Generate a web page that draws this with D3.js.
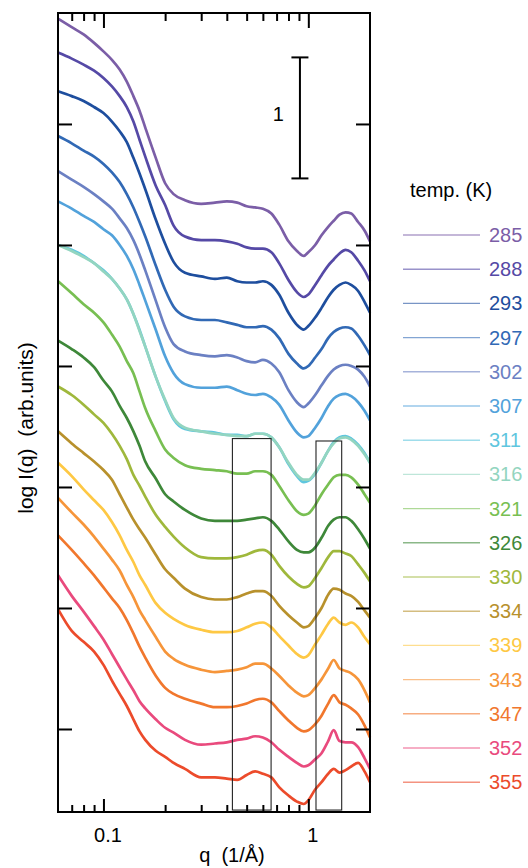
<!DOCTYPE html>
<html>
<head>
<meta charset="utf-8">
<script src="https://cdn.jsdelivr.net/npm/d3@7"></script>
<style>
body { margin: 0; background: #fff; }
svg { font-family: "Liberation Sans", Arial, sans-serif; }
</style>
</head>
<body>
<svg id="saxs-temp"></svg>
<script>
const qValues = [0.06, 0.07, 0.08, 0.09, 0.10, 0.11, 0.12, 0.13, 0.14, 0.15, 0.16, 0.18, 0.20, 0.22, 0.25,
    0.30, 0.35, 0.40, 0.45, 0.50, 0.55, 0.60, 0.66, 0.72, 0.80, 0.88, 0.95, 1.00,
    1.08, 1.16, 1.25, 1.33, 1.42, 1.52, 1.62, 1.75, 1.88, 2.00];

const temps = [285, 288, 293, 297, 302, 307, 311, 316, 321, 326, 330, 334, 339, 343, 347, 352, 355];

const colors = ["#7b5ea7", "#5549a6", "#1e4e9e", "#3169b5", "#6b80c3", "#52a2db", "#5fc6de", "#93d5c0",
    "#78bf52", "#3e8839", "#9fb83c", "#b8912c", "#fec844", "#f6953a", "#f1772d", "#e94a7d", "#ec4b2b"];

// vertical shift of each curve (decades)
const offsets = [4.34, 4.04, 3.74, 3.38, 3.09, 2.82, 2.47, 2.46, 2.15, 1.74, 1.42, 1.09, 0.82, 0.48, 0.19, -0.13, -0.40];

// log I(q), relative to the level at q = 0.3
const logI = [
    [1.53, 1.46, 1.40, 1.33, 1.26, 1.19, 1.11, 1.01, 0.89, 0.77, 0.63, 0.38, 0.17, 0.08, 0.03, 0, 0.01, 0.02, 0.01, -0.02, -0.03, -0.04, -0.08, -0.17, -0.31, -0.39, -0.43, -0.40, -0.34, -0.26, -0.19, -0.14, -0.09, -0.07, -0.08, -0.15, -0.22, -0.31],
    [1.55, 1.50, 1.45, 1.40, 1.34, 1.27, 1.19, 1.10, 0.98, 0.83, 0.69, 0.45, 0.29, 0.12, 0.03, 0, 0, -0.01, -0.03, -0.06, -0.07, -0.07, -0.10, -0.19, -0.33, -0.43, -0.47, -0.45, -0.37, -0.29, -0.21, -0.16, -0.11, -0.08, -0.10, -0.17, -0.25, -0.34],
    [1.53, 1.49, 1.45, 1.40, 1.35, 1.28, 1.20, 1.11, 0.98, 0.85, 0.72, 0.47, 0.27, 0.12, 0.03, 0, -0.02, -0.01, -0.04, -0.05, -0.05, -0.04, -0.07, -0.15, -0.30, -0.40, -0.44, -0.41, -0.34, -0.26, -0.17, -0.11, -0.07, -0.05, -0.07, -0.12, -0.21, -0.30],
    [1.52, 1.46, 1.40, 1.35, 1.29, 1.22, 1.14, 1.04, 0.93, 0.81, 0.69, 0.45, 0.25, 0.11, 0.03, 0, 0, -0.02, -0.04, -0.06, -0.06, -0.05, -0.08, -0.15, -0.28, -0.36, -0.40, -0.38, -0.31, -0.24, -0.15, -0.10, -0.07, -0.06, -0.07, -0.13, -0.21, -0.29],
    [1.52, 1.45, 1.39, 1.33, 1.27, 1.21, 1.13, 1.05, 0.95, 0.83, 0.70, 0.45, 0.23, 0.09, 0.03, 0, -0.01, 0, -0.02, -0.05, -0.06, -0.04, -0.07, -0.14, -0.29, -0.39, -0.43, -0.40, -0.33, -0.25, -0.17, -0.12, -0.09, -0.08, -0.09, -0.12, -0.18, -0.26],
    [1.54, 1.48, 1.42, 1.37, 1.31, 1.26, 1.18, 1.09, 0.98, 0.85, 0.72, 0.48, 0.26, 0.12, 0.03, 0, 0, 0.01, -0.02, -0.05, -0.06, -0.05, -0.08, -0.14, -0.27, -0.37, -0.41, -0.40, -0.33, -0.25, -0.15, -0.09, -0.06, -0.05, -0.07, -0.12, -0.19, -0.27],
    [1.53, 1.49, 1.44, 1.38, 1.32, 1.25, 1.17, 1.08, 0.96, 0.83, 0.69, 0.44, 0.24, 0.09, 0.01, -0.01, -0.02, -0.04, -0.04, -0.05, -0.03, -0.03, -0.06, -0.14, -0.28, -0.38, -0.43, -0.42, -0.36, -0.27, -0.17, -0.10, -0.06, -0.05, -0.07, -0.12, -0.19, -0.27],
    [1.54, 1.49, 1.44, 1.39, 1.32, 1.26, 1.18, 1.09, 0.97, 0.83, 0.70, 0.45, 0.26, 0.11, 0.03, 0, -0.02, -0.03, -0.04, -0.04, -0.02, -0.02, -0.05, -0.13, -0.26, -0.36, -0.40, -0.40, -0.34, -0.26, -0.16, -0.10, -0.06, -0.05, -0.07, -0.12, -0.19, -0.26],
    [1.55, 1.45, 1.36, 1.29, 1.21, 1.11, 1.01, 0.89, 0.79, 0.64, 0.50, 0.31, 0.16, 0.09, 0.03, 0, -0.01, -0.02, -0.04, -0.04, -0.02, -0.02, -0.05, -0.14, -0.26, -0.35, -0.38, -0.37, -0.30, -0.21, -0.13, -0.07, -0.05, -0.05, -0.07, -0.13, -0.21, -0.28],
    [1.47, 1.40, 1.33, 1.25, 1.14, 1.05, 0.93, 0.83, 0.72, 0.60, 0.47, 0.33, 0.20, 0.14, 0.07, 0, -0.02, -0.02, -0.02, -0.01, 0, 0.01, -0.02, -0.09, -0.19, -0.26, -0.28, -0.28, -0.24, -0.16, -0.06, -0.01, 0.01, 0.01, -0.02, -0.09, -0.17, -0.25],
    [1.41, 1.34, 1.26, 1.18, 1.11, 1.02, 0.92, 0.81, 0.68, 0.59, 0.50, 0.35, 0.25, 0.17, 0.08, 0, -0.01, -0.01, 0, 0.02, 0.05, 0.06, 0.02, -0.07, -0.16, -0.22, -0.25, -0.24, -0.17, -0.09, 0, 0.05, 0.05, 0.03, 0.01, -0.06, -0.13, -0.20],
    [1.37, 1.27, 1.19, 1.12, 1.05, 0.97, 0.85, 0.74, 0.64, 0.56, 0.49, 0.35, 0.23, 0.16, 0.07, 0, -0.02, -0.02, 0, 0.03, 0.05, 0.05, 0.01, -0.07, -0.15, -0.21, -0.25, -0.24, -0.17, -0.09, 0.02, 0.07, 0.06, 0.03, 0.01, -0.04, -0.11, -0.17],
    [1.38, 1.27, 1.16, 1.07, 0.99, 0.89, 0.78, 0.66, 0.56, 0.45, 0.37, 0.22, 0.14, 0.09, 0.04, 0, -0.02, -0.02, -0.01, 0.02, 0.05, 0.06, 0.02, -0.05, -0.13, -0.20, -0.23, -0.21, -0.12, -0.04, 0.05, 0.10, 0.06, 0.04, 0.06, 0.02, -0.06, -0.12],
    [1.43, 1.31, 1.21, 1.11, 1.01, 0.92, 0.83, 0.71, 0.61, 0.50, 0.42, 0.28, 0.16, 0.10, 0.05, 0.01, -0.01, 0, 0.01, 0.03, 0.06, 0.06, 0.02, -0.04, -0.12, -0.18, -0.21, -0.20, -0.14, -0.07, 0.02, 0.09, 0.02, 0, -0.02, -0.07, -0.16, -0.26],
    [1.41, 1.29, 1.18, 1.08, 0.98, 0.89, 0.81, 0.71, 0.60, 0.49, 0.40, 0.25, 0.15, 0.10, 0.06, 0.02, -0.01, -0.01, 0, 0.02, 0.05, 0.06, 0.03, -0.04, -0.12, -0.18, -0.21, -0.20, -0.15, -0.08, 0.02, 0.09, 0.03, 0.01, -0.02, -0.07, -0.16, -0.26],
    [1.40, 1.23, 1.10, 0.98, 0.87, 0.75, 0.64, 0.54, 0.45, 0.36, 0.30, 0.21, 0.14, 0.10, 0.04, 0, 0.01, 0.02, 0.04, 0.05, 0.07, 0.06, 0.02, -0.04, -0.10, -0.15, -0.18, -0.17, -0.12, -0.07, 0.03, 0.12, 0.03, 0.02, 0.02, -0.02, -0.11, -0.20],
    [1.39, 1.21, 1.12, 1.04, 0.93, 0.80, 0.69, 0.59, 0.48, 0.38, 0.31, 0.22, 0.17, 0.12, 0.07, 0, 0, -0.01, -0.02, 0.02, 0.05, 0.03, 0, -0.08, -0.15, -0.20, -0.22, -0.19, -0.10, -0.04, 0.03, 0.07, 0.04, 0.06, 0.09, 0.12, 0.05, -0.04]
];

const yTickValues = [0, 1, 2, 3, 4, 5];
const xMajorTicks = [0.1, 1];
const xMinorTicks = [0.07, 0.08, 0.09, 0.2, 0.3, 0.4, 0.5, 0.6, 0.7, 0.8, 0.9];

// highlighted q ranges: [qMin, qMax, logTop, logBottom]
const boxes = [[0.426, 0.658, 2.40, -0.67], [1.09, 1.455, 2.38, -0.67]];

// scale bar: one decade
const barTop = 5.55;
const barLength = 1;
const barQ = 0.91;

function main() {
    const width = 528;
    const height = 868;
    const margin = {top: 13, left: 58, right: 158, bottom: 56};
    const plotW = width - margin.left - margin.right;
    const plotH = height - margin.top - margin.bottom;

    const svg = d3.select("#saxs-temp").attr("width", width).attr("height", height);
    const g = svg.append("g").attr("transform", "translate(" + margin.left + "," + margin.top + ")");

    const x = d3.scaleLog().domain([0.06, 2]).range([0, plotW]);
    const y = d3.scaleLinear().domain([-0.686, 5.917]).range([plotH, 0]);

    const line = d3.line()
        .x(function (d) { return x(d[0]); })
        .y(function (d) { return y(d[1]); })
        .curve(d3.curveMonotoneX);

    g.selectAll(".curve")
        .data(logI)
        .enter().append("path")
        .attr("class", "curve")
        .attr("fill", "none")
        .attr("stroke", function (d, i) { return colors[i]; })
        .attr("stroke-width", 2.7)
        .attr("stroke-linejoin", "round")
        .attr("d", function (d, i) {
            return line(d.map(function (v, j) { return [qValues[j], v + offsets[i]]; }));
        });

    g.selectAll(".box")
        .data(boxes)
        .enter().append("rect")
        .attr("class", "box")
        .attr("x", function (d) { return x(d[0]); })
        .attr("y", function (d) { return y(d[2]); })
        .attr("width", function (d) { return x(d[1]) - x(d[0]); })
        .attr("height", function (d) { return y(d[3]) - y(d[2]); })
        .attr("fill", "none")
        .attr("stroke", "#222")
        .attr("stroke-width", 1.1);

    drawAxes(g, x, y, plotW, plotH);
    drawScaleBar(g, x, y);
    drawLegend(svg);

    g.append("rect")
        .attr("width", plotW).attr("height", plotH)
        .attr("fill", "none").attr("stroke", "#000").attr("stroke-width", 2);

    svg.append("text")
        .attr("transform", "translate(33,428) rotate(-90)")
        .attr("text-anchor", "middle")
        .attr("font-size", 21)
        .style("white-space", "pre")
        .text("log I(q)  (arb.units)");

    svg.append("text")
        .attr("x", 232).attr("y", 862)
        .attr("text-anchor", "middle")
        .attr("font-size", 20)
        .style("white-space", "pre")
        .text("q  (1/Å)");
}

function drawAxes(g, x, y, plotW, plotH) {
    const bottomMinor = d3.axisBottom(x).tickValues(xMinorTicks).tickSize(-7).tickFormat("");
    const bottomMajor = d3.axisBottom(x).tickValues(xMajorTicks).tickSize(-13).tickPadding(16)
        .tickFormat(d3.format(""));
    const topMinor = d3.axisTop(x).tickValues(xMinorTicks).tickSize(-8).tickFormat("");
    const topMajor = d3.axisTop(x).tickValues(xMajorTicks).tickSize(-15).tickFormat("");
    const left = d3.axisLeft(y).tickValues(yTickValues).tickSize(-14).tickFormat("");
    const right = d3.axisRight(y).tickValues(yTickValues).tickSize(-14).tickFormat("");

    const parts = [
        [bottomMinor, "translate(0," + plotH + ")"],
        [bottomMajor, "translate(0," + plotH + ")"],
        [topMinor, "translate(0,0)"],
        [topMajor, "translate(0,0)"],
        [left, "translate(0,0)"],
        [right, "translate(" + plotW + ",0)"]
    ];

    parts.forEach(function (p) {
        const a = g.append("g").attr("class", "axis").attr("transform", p[1]).call(p[0]);
        a.select(".domain").remove();
        a.selectAll(".tick line").attr("stroke", "#000").attr("stroke-width", 2);
        a.selectAll(".tick text")
            .attr("font-size", 20)
            .attr("font-family", "Liberation Sans, Arial, sans-serif")
            .attr("fill", "#000")
            .attr("dx", 4);
    });
}

function drawScaleBar(g, x, y) {
    const bx = x(barQ);
    const y0 = y(barTop);
    const y1 = y(barTop - barLength);
    const bar = g.append("g").attr("stroke", "#000").attr("stroke-width", 2);
    bar.append("line").attr("x1", bx).attr("x2", bx).attr("y1", y0).attr("y2", y1);
    bar.append("line").attr("x1", bx - 8.5).attr("x2", bx + 8.5).attr("y1", y0).attr("y2", y0);
    bar.append("line").attr("x1", bx - 8.5).attr("x2", bx + 8.5).attr("y1", y1).attr("y2", y1);
    g.append("text")
        .attr("x", bx - 16).attr("y", (y0 + y1) / 2 - 4)
        .attr("text-anchor", "end")
        .attr("dy", "0.35em")
        .attr("font-size", 20)
        .text("1");
}

function drawLegend(svg) {
    const legend = svg.append("g").attr("class", "legend");
    legend.append("text")
        .attr("x", 410).attr("y", 197)
        .attr("font-size", 20)
        .text("temp. (K)");

    const items = legend.selectAll(".item")
        .data(temps)
        .enter().append("g")
        .attr("class", "item")
        .attr("transform", function (d, i) { return "translate(0," + (235 + i * 34.2) + ")"; });

    items.append("line")
        .attr("x1", 403).attr("x2", 480)
        .attr("stroke", function (d, i) { return colors[i]; })
        .attr("stroke-opacity", 0.6)
        .attr("stroke-width", 1.4);

    items.append("text")
        .attr("x", 489).attr("dy", "0.35em")
        .attr("font-size", 20)
        .attr("fill", function (d, i) { return colors[i]; })
        .text(function (d) { return d; });
}

main();
</script>
</body>
</html>
